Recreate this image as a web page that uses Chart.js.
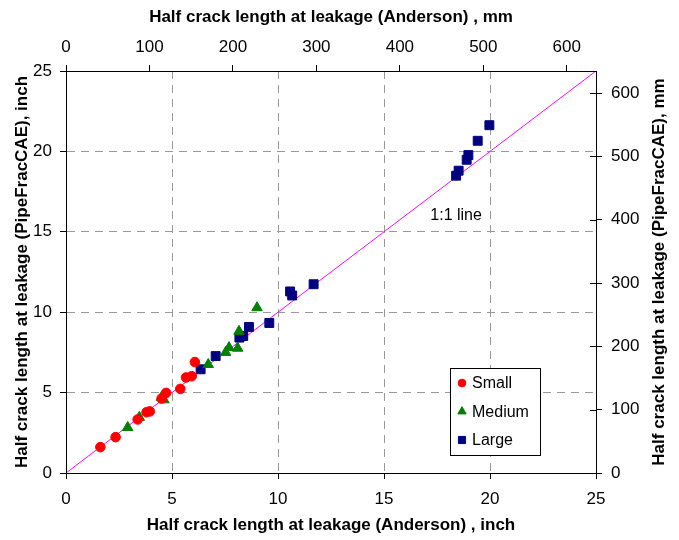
<!DOCTYPE html>
<html><head><meta charset="utf-8">
<script src="https://cdn.jsdelivr.net/npm/chart.js@4/dist/chart.umd.min.js"></script>
<style>html,body{margin:0;padding:0;background:#fff;}#wrap{width:679px;height:540px;}</style>
</head><body><div id="wrap"><canvas id="c" width="679" height="540"></canvas></div>
<script>
// Data (inches): x = Anderson, y = PipeFracCAE
const smallX  = [1.62, 2.34, 3.38, 3.80, 3.95, 4.51, 4.72, 5.39, 5.66, 5.93, 6.08];
const smallY  = [1.61, 2.23, 3.33, 3.78, 3.83, 4.63, 4.98, 5.23, 5.94, 6.02, 6.90];
const mediumX = [2.91, 3.46, 4.50, 4.62, 6.71, 7.53, 7.69, 8.10, 8.16, 9.01];
const mediumY = [2.83, 3.46, 4.70, 4.55, 6.75, 7.50, 7.80, 7.76, 8.81, 10.28];
const largeX  = [6.35, 7.06, 8.18, 8.36, 8.63, 9.59, 10.57, 10.67, 11.68, 18.40, 18.52, 18.90, 18.98, 19.42, 19.97];
const largeY  = [6.45, 7.27, 8.42, 8.52, 9.08, 9.33, 11.29, 11.04, 11.74, 18.49, 18.80, 19.48, 19.77, 20.66, 21.63];
const lineX = [0, 25];
const lineY = [0, 25];
const inchTicks = [0, 5, 10, 15, 20, 25];
const mmTicks = [0, 100, 200, 300, 400, 500, 600];
const MM_PER_INCH = 25.4;
const legendLabels = ['Small', 'Medium', 'Large'];
const rightTitle = 'Half crack length at leakage (PipeFracCAE), mm';

const pts = (xs, ys) => xs.map((x, i) => ({x, y: ys[i]}));
const FONT = 'Liberation Sans, Arial, sans-serif';
const fixSize = (w, h) => (scale) => { if (w != null) scale.width = w; if (h != null) scale.height = h; };

const legendPlugin = {
  id: 'customLegend',
  afterDraw(chart) {
    const ctx = chart.ctx, a = chart.chartArea;
    const bx = a.right - 146, by = a.bottom - 105, bw = 90, bh = 87;
    const ds = chart.data.datasets;
    ctx.save();
    ctx.fillStyle = '#fff'; ctx.strokeStyle = '#000'; ctx.lineWidth = 1;
    ctx.fillRect(bx, by, bw, bh); ctx.strokeRect(bx + 0.5, by + 0.5, bw, bh);
    for (let i = 0; i < 3; i++) {
      const cy = by + 15 + i * 28.5;
      ctx.fillStyle = ds[i].backgroundColor; ctx.strokeStyle = ds[i].borderColor; ctx.lineWidth = 1;
      Chart.helpers.drawPoint(ctx, {pointStyle: ds[i].pointStyle, radius: ds[i].pointRadius * 0.8, borderWidth: 1, rotation: 0}, bx + 12, cy);
      ctx.font = '16px ' + FONT; ctx.textBaseline = 'middle'; ctx.textAlign = 'left'; ctx.fillStyle = '#000';
      ctx.fillText(legendLabels[i], bx + 22, cy + 1);
    }
    ctx.restore();
  }
};
const lineLabel = {
  id: 'lineLabel',
  afterDatasetsDraw(chart) {
    const ctx = chart.ctx, xs = chart.scales.x, ys = chart.scales.y;
    ctx.save();
    ctx.font = '16px ' + FONT; ctx.fillStyle = '#000'; ctx.textAlign = 'center'; ctx.textBaseline = 'middle';
    ctx.fillText('1:1 line', xs.getPixelForValue(18.4), ys.getPixelForValue(16.0));
    ctx.restore();
  }
};
const frame = {
  id: 'frame',
  afterDatasetsDraw(chart) {
    const ctx = chart.ctx, a = chart.chartArea;
    ctx.save(); ctx.strokeStyle = '#000'; ctx.lineWidth = 1;
    ctx.strokeRect(Math.round(a.left) + 0.5, Math.round(a.top) + 0.5, Math.round(a.right - a.left), Math.round(a.bottom - a.top));
    // inner half of the crossing ticks on the right (mm) axis
    const y2 = chart.scales.y2;
    ctx.beginPath();
    mmTicks.forEach(v => {
      const py = Math.round(y2.getPixelForValue(v)) + 0.5;
      ctx.moveTo(a.right - 6, py); ctx.lineTo(a.right, py);
    });
    ctx.stroke();
    // right title, reading bottom-to-top
    ctx.translate(659, (a.top + a.bottom) / 2);
    ctx.rotate(-Math.PI / 2);
    ctx.font = 'bold 17px ' + FONT; ctx.fillStyle = '#000'; ctx.textAlign = 'center'; ctx.textBaseline = 'middle';
    ctx.fillText(rightTitle, 0, 0);
    ctx.restore();
  }
};

const tickFont = {family: FONT, size: 17};
const titleFont = {family: FONT, size: 17, weight: 'bold'};

new Chart(document.getElementById('c'), {
  type: 'scatter',
  data: {
    datasets: [
      {label: 'Small', data: pts(smallX, smallY), pointStyle: 'circle', pointRadius: 4.8, backgroundColor: '#FF0000', borderColor: '#FF0000', borderWidth: 1},
      {label: 'Medium', data: pts(mediumX, mediumY), pointStyle: 'triangle', pointRadius: 6, backgroundColor: '#008000', borderColor: '#008000', borderWidth: 1},
      {label: 'Large', data: pts(largeX, largeY), pointStyle: 'rect', pointRadius: 6.3, backgroundColor: '#000080', borderColor: '#000080', borderWidth: 1},
      {label: '1:1', type: 'line', data: pts(lineX, lineY), borderColor: '#FF00FF', borderWidth: 1, pointRadius: 0, showLine: true, fill: false, order: 10}
    ]
  },
  options: {
    responsive: false, animation: false, devicePixelRatio: 1,
    layout: {padding: 0},
    plugins: {legend: {display: false}, tooltip: {enabled: false}},
    scales: {
      x: {
        type: 'linear', position: 'bottom', min: 0, max: 25,
        afterBuildTicks: s => { s.ticks = inchTicks.map(v => ({value: v})); },
        ticks: {color: '#000', font: tickFont, padding: 10, maxRotation: 0},
        grid: {color: '#999', lineWidth: 1, tickColor: '#000', tickLength: 6},
        border: {display: true, color: '#000', dash: [8, 6]},
        title: {display: true, text: 'Half crack length at leakage (Anderson) , inch', color: '#000', font: titleFont, padding: {top: 0, bottom: 4}},
        afterFit: fixSize(null, 67)
      },
      x2: {
        type: 'linear', position: 'top', min: 0, max: 25 * MM_PER_INCH,
        afterBuildTicks: s => { s.ticks = mmTicks.map(v => ({value: v})); },
        ticks: {color: '#000', font: tickFont, padding: 7, maxRotation: 0},
        grid: {drawOnChartArea: false, tickColor: '#000', tickLength: 6},
        border: {display: true, color: '#000'},
        title: {display: true, text: 'Half crack length at leakage (Anderson) , mm', color: '#000', font: titleFont, padding: {top: 7, bottom: 0}},
        afterFit: fixSize(null, 71)
      },
      y: {
        type: 'linear', position: 'left', min: 0, max: 25,
        afterBuildTicks: s => { s.ticks = inchTicks.map(v => ({value: v})); },
        ticks: {color: '#000', font: tickFont, padding: 8},
        grid: {color: '#999', lineWidth: 1, tickColor: '#000', tickLength: 6},
        border: {display: true, color: '#000', dash: [8, 6]},
        title: {display: true, text: 'Half crack length at leakage (PipeFracCAE), inch', color: '#000', font: titleFont, padding: {top: 12, bottom: 0}},
        afterFit: fixSize(66, null)
      },
      y2: {
        type: 'linear', position: 'right', min: 0, max: 25 * MM_PER_INCH,
        afterBuildTicks: s => { s.ticks = mmTicks.map(v => ({value: v})); },
        ticks: {color: '#000', font: tickFont, padding: 9},
        grid: {drawOnChartArea: false, tickColor: '#000', tickLength: 6},
        border: {display: true, color: '#000'},
        title: {display: false},
        afterFit: fixSize(83, null)
      }
    }
  },
  plugins: [lineLabel, frame, legendPlugin]
});
</script>
</body></html>
